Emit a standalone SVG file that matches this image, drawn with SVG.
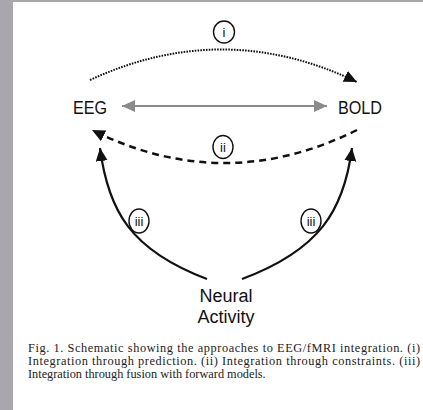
<svg xmlns="http://www.w3.org/2000/svg" width="423" height="410" viewBox="0 0 423 410">
<style>
.lbl{font-family:"Liberation Sans",Arial,sans-serif;font-size:18px;fill:#111}
.rn{font-family:"Liberation Sans",Arial,sans-serif;font-size:13px;fill:#111;text-anchor:middle}
.badge{fill:#fff;stroke:#111;stroke-width:1.4}
.cap{font-family:"Liberation Serif","Times New Roman",serif;font-size:12.3px;fill:#222}
.c{fill:none;stroke:#111}
</style>
<defs>
<marker id="ah" markerUnits="userSpaceOnUse" markerWidth="16" markerHeight="14" refX="13" refY="6" orient="auto" viewBox="0 0 16 14">
<path d="M0 0 L13 6 L0 12 Z" fill="#111"/>
</marker>
<marker id="ag" markerUnits="userSpaceOnUse" markerWidth="16" markerHeight="14" refX="13" refY="6" orient="auto-start-reverse" viewBox="0 0 16 14">
<path d="M0 0 L13 6 L0 12 Z" fill="#8a8a8a"/>
</marker>
</defs>
<rect width="423" height="410" fill="#a9a6ad"/>
<rect x="13" y="2" width="410" height="408" fill="#fff"/>
<g id="connectors">
<path class="c" d="M90 80 Q224 18 357 82" stroke-width="2" stroke-dasharray="1.6 1.2" marker-end="url(#ah)"/>
<path d="M122 106 L327 106" stroke="#8a8a8a" stroke-width="2.2" fill="none" marker-start="url(#ag)" marker-end="url(#ag)"/>
<path class="c" d="M357 130 Q224 196 92 130" stroke-width="2.5" stroke-dasharray="7 5" marker-end="url(#ah)"/>
<path class="c" d="M207 279 C130 250 108 210 100 148" stroke-width="2.2" marker-end="url(#ah)"/>
<path class="c" d="M242 279 C320 250 344 210 352 148" stroke-width="2.2" marker-end="url(#ah)"/>
</g>
<g id="label-i"><ellipse class="badge" cx="224" cy="32" rx="10.5" ry="11"/><text class="rn" x="224" y="37">i</text></g>
<g id="label-ii"><ellipse class="badge" cx="223" cy="147" rx="10" ry="11.5"/><text class="rn" x="223" y="152">ii</text></g>
<g id="label-iii-left"><ellipse class="badge" cx="139" cy="221" rx="10" ry="12"/><text class="rn" x="139" y="226">iii</text></g>
<g id="label-iii-right"><ellipse class="badge" cx="311" cy="221" rx="10" ry="12"/><text class="rn" x="311" y="226">iii</text></g>
<g id="eeg"><text class="lbl" x="73" y="114" textLength="34" lengthAdjust="spacingAndGlyphs">EEG</text></g>
<g id="bold"><text class="lbl" x="338" y="114" textLength="44" lengthAdjust="spacingAndGlyphs">BOLD</text></g>
<g id="neural-activity"><text class="lbl" text-anchor="middle"><tspan x="226" y="302">Neural</tspan><tspan x="226" y="323">Activity</tspan></text></g>
<g id="caption">
<text class="cap" x="28" y="352" textLength="392" lengthAdjust="spacing">Fig. 1. Schematic showing the approaches to EEG/fMRI integration. (i)</text>
<text class="cap" x="28" y="365" textLength="392" lengthAdjust="spacing">Integration through prediction. (ii) Integration through constraints. (iii)</text>
<text class="cap" x="28" y="378">Integration through fusion with forward models.</text>
</g>
</svg>
